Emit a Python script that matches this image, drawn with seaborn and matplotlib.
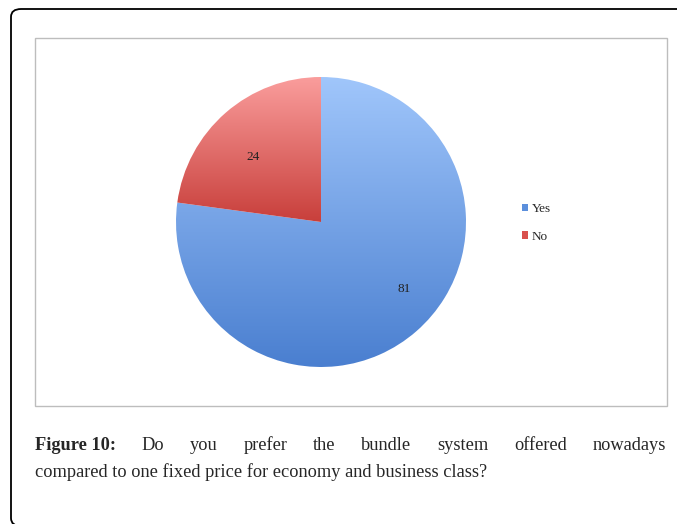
import numpy as np
import matplotlib
matplotlib.use("Agg")
import matplotlib.pyplot as plt
import seaborn as sns
from matplotlib.patches import Patch, Rectangle, FancyBboxPatch
from matplotlib.colors import LinearSegmentedColormap

# survey answers
labels = ["Yes", "No"]
counts = [81, 24]
top_colors = ["#a0c6fb", "#fa9d9c"]
bottom_colors = ["#4a7fd0", "#c83f3b"]

caption_bold = "Figure 10:"
caption_line1 = "Do you prefer the bundle system offered nowadays"
caption_line2 = "compared to one fixed price for economy and business class?"

sns.set_theme(style="white")
plt.rcParams["font.family"] = ["Liberation Serif", "DejaVu Serif"]

W, H = 677, 524
fig = plt.figure(figsize=(W / 100, H / 100), dpi=100)

def px(x, y):
    return x / W, 1 - y / H

# outer rounded frame (cut by the right/bottom edge)
fig.patches.append(FancyBboxPatch(px(11, 526), (700 - 11) / W, (526 - 9) / H,
                                  boxstyle="round,pad=0,rounding_size=0.015",
                                  transform=fig.transFigure, fill=False,
                                  edgecolor="black", linewidth=1.3))
# inner chart frame
fig.patches.append(Rectangle(px(35, 406), (667 - 35) / W, (406 - 38) / H,
                             transform=fig.transFigure, fill=False,
                             edgecolor="#bdbdbd", linewidth=1.0))

# pie axes
R = 145
cx, cy = 321, 222
ax = fig.add_axes([(cx - R) / W, 1 - (cy + R) / H, 2 * R / W, 2 * R / H])
wedges, _, autotexts = ax.pie(counts, startangle=90, counterclock=False,
                              autopct=lambda p: f"{p * sum(counts) / 100:.0f}",
                              colors=top_colors,
                              textprops=dict(fontsize=9.5, color="#222222"))

# vertical gradient inside each slice
for w, c_top, c_bot in zip(wedges, top_colors, bottom_colors):
    ext = w.get_path().get_extents()
    cmap = LinearSegmentedColormap.from_list("g", [c_bot, c_top])
    grad = np.linspace(0, 1, 256).reshape(-1, 1)
    im = ax.imshow(grad, cmap=cmap, aspect="auto", origin="lower",
                   extent=[ext.x0, ext.x1, ext.y0, ext.y1], zorder=1)
    im.set_clip_path(w)
    w.set_facecolor("none")
    w.set_edgecolor("none")
ax.set_xlim(-1, 1)
ax.set_ylim(-1, 1)
ax.set_aspect("equal")
ax.axis("off")

# data labels placed like Excel's best fit
for w, t, shift, r in zip(wedges, autotexts, [10, 5], [0.74, 0.65]):
    ang = np.deg2rad((w.theta1 + w.theta2) / 2 + shift)
    t.set_position((r * np.cos(ang), r * np.sin(ang)))
    t.set_zorder(5)

# legend
handles = [Patch(facecolor=c, edgecolor="none") for c in ["#5b8fdc", "#d9504d"]]
fig.legend(handles, labels, loc="center left", bbox_to_anchor=px(510, 223),
           frameon=False, fontsize=9.5, handlelength=0.5, handleheight=0.5,
           handletextpad=0.25, labelspacing=1.2)

# caption, justified first line
fig.canvas.draw()
renderer = fig.canvas.get_renderer()
fs = 13.2
words = [(caption_bold, "bold")] + [(w, "normal") for w in caption_line1.split()]
texts = []
for w, wt in words:
    t = fig.text(0, 0, w, fontsize=fs, fontweight=wt, va="baseline", ha="left")
    texts.append(t)
widths = [t.get_window_extent(renderer).width for t in texts]
left, right = 35, 666
gap = (right - left - sum(widths)) / (len(words) - 1)
x = left
for t, wd in zip(texts, widths):
    t.set_position(px(x, 450))
    x += wd + gap
fig.text(*px(left, 477), caption_line2, fontsize=fs, va="baseline", ha="left")

fig.savefig("out.png", dpi=100)
